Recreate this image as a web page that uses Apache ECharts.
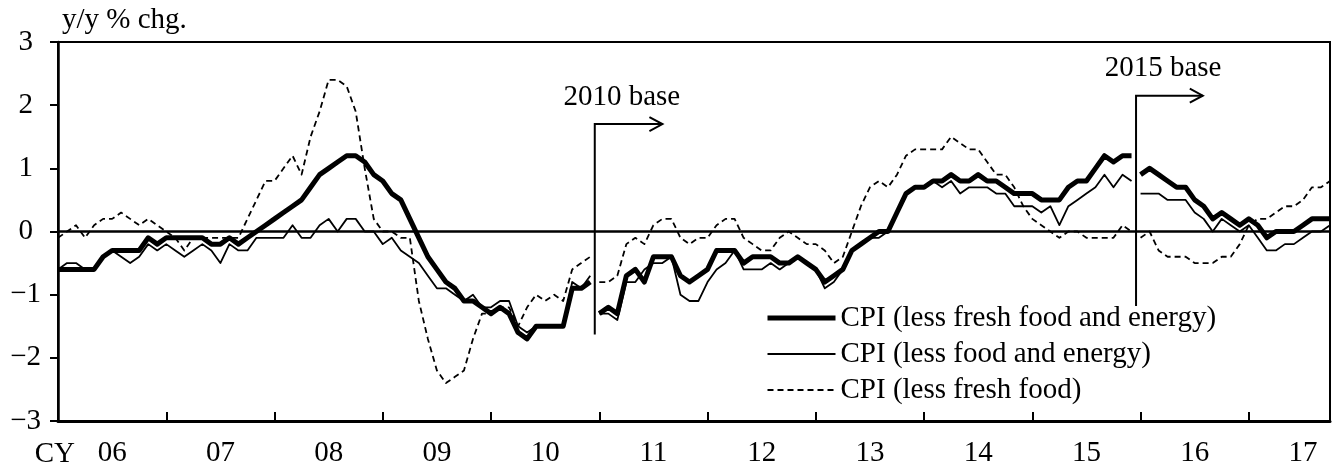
<!DOCTYPE html>
<html>
<head>
<meta charset="utf-8">
<script src="https://cdn.jsdelivr.net/npm/echarts@6/dist/echarts.min.js"></script>
<style>
  html, body { margin: 0; padding: 0; background: #fff; }
  #chart { width: 1332px; height: 471px; }
</style>
</head>
<body>
<div id="chart"></div>
<script>
// Japan CPI, y/y % change, monthly from Jan 2006 to Oct 2017
const yearLabels = ['06', '07', '08', '09', '10', '11', '12', '13', '14', '15', '16', '17'];
const axisPrefix = 'CY';
const unitLabel = 'y/y % chg.';
const seriesNames = [
  'CPI (less fresh food and energy)',
  'CPI (less food and energy)',
  'CPI (less fresh food)'
];

const lessFreshFoodEnergy = [
  -0.6, -0.6, -0.6, -0.6, -0.6, -0.4, -0.3, -0.3, -0.3, -0.3, -0.1, -0.2, // 2006
  -0.1, -0.1, -0.1, -0.1, -0.1, -0.2, -0.2, -0.1, -0.2, -0.1, 0.0, 0.1,   // 2007
  0.2, 0.3, 0.4, 0.5, 0.7, 0.9, 1.0, 1.1, 1.2, 1.2, 1.1, 0.9,             // 2008
  0.8, 0.6, 0.5, 0.2, -0.1, -0.4, -0.6, -0.8, -0.9, -1.1, -1.1, -1.2,     // 2009
  -1.3, -1.2, -1.3, -1.6, -1.7, -1.5, -1.5, -1.5, -1.5, -0.9, -0.9, -0.8, // 2010
  -1.3, -1.2, -1.3, -0.7, -0.6, -0.8, -0.4, -0.4, -0.4, -0.7, -0.8, -0.7, // 2011
  -0.6, -0.3, -0.3, -0.3, -0.5, -0.4, -0.4, -0.4, -0.5, -0.5, -0.4, -0.5, // 2012
  -0.6, -0.8, -0.7, -0.6, -0.3, -0.2, -0.1, 0.0, 0.0, 0.3, 0.6, 0.7,      // 2013
  0.7, 0.8, 0.8, 0.9, 0.8, 0.8, 0.9, 0.8, 0.8, 0.7, 0.6, 0.6,             // 2014
  0.6, 0.5, 0.5, 0.5, 0.7, 0.8, 0.8, 1.0, 1.2, 1.1, 1.2, 1.2,             // 2015
  0.9, 1.0, 0.9, 0.8, 0.7, 0.7, 0.5, 0.4, 0.2, 0.3, 0.2, 0.1,             // 2016
  0.2, 0.1, -0.1, 0.0, 0.0, 0.0, 0.1, 0.2, 0.2, 0.2                       // 2017
];

const lessFoodEnergy = [
  -0.6, -0.5, -0.5, -0.6, -0.6, -0.4, -0.3, -0.4, -0.5, -0.4, -0.2, -0.3, // 2006
  -0.2, -0.3, -0.4, -0.3, -0.2, -0.3, -0.5, -0.2, -0.3, -0.3, -0.1, -0.1, // 2007
  -0.1, -0.1, 0.1, -0.1, -0.1, 0.1, 0.2, 0.0, 0.2, 0.2, 0.0, 0.0,         // 2008
  -0.2, -0.1, -0.3, -0.4, -0.5, -0.7, -0.9, -0.9, -1.0, -1.1, -1.0, -1.2, // 2009
  -1.2, -1.1, -1.1, -1.5, -1.6, -1.5, -1.5, -1.5, -1.5, -0.8, -0.9, -0.7, // 2010
  -1.3, -1.3, -1.4, -0.8, -0.8, -0.6, -0.5, -0.5, -0.4, -1.0, -1.1, -1.1, // 2011
  -0.8, -0.6, -0.5, -0.3, -0.6, -0.6, -0.6, -0.5, -0.6, -0.5, -0.4, -0.5, // 2012
  -0.6, -0.9, -0.8, -0.6, -0.3, -0.2, -0.1, -0.1, 0.0, 0.3, 0.6, 0.7,     // 2013
  0.7, 0.8, 0.7, 0.8, 0.6, 0.7, 0.7, 0.7, 0.6, 0.6, 0.4, 0.4,             // 2014
  0.4, 0.3, 0.4, 0.1, 0.4, 0.5, 0.6, 0.7, 0.9, 0.7, 0.9, 0.8,             // 2015
  0.6, 0.6, 0.6, 0.5, 0.5, 0.5, 0.3, 0.2, 0.0, 0.2, 0.1, 0.0,             // 2016
  0.1, -0.1, -0.3, -0.3, -0.2, -0.2, -0.1, 0.0, 0.0, 0.1                  // 2017
];

const lessFreshFood = [
  -0.1, 0.0, 0.1, -0.1, 0.1, 0.2, 0.2, 0.3, 0.2, 0.1, 0.2, 0.1,           // 2006
  0.0, -0.1, -0.3, -0.1, -0.1, -0.1, -0.1, -0.1, -0.1, 0.2, 0.5, 0.8,     // 2007
  0.8, 1.0, 1.2, 0.9, 1.5, 1.9, 2.4, 2.4, 2.3, 1.9, 1.0, 0.2,             // 2008
  0.0, 0.0, -0.1, -0.1, -1.1, -1.7, -2.2, -2.4, -2.3, -2.2, -1.7, -1.3,   // 2009
  -1.3, -1.2, -1.2, -1.5, -1.2, -1.0, -1.1, -1.0, -1.1, -0.6, -0.5, -0.4, // 2010
  -0.8, -0.8, -0.7, -0.2, -0.1, -0.2, 0.1, 0.2, 0.2, -0.1, -0.2, -0.1,    // 2011
  -0.1, 0.1, 0.2, 0.2, -0.1, -0.2, -0.3, -0.3, -0.1, 0.0, -0.1, -0.2,     // 2012
  -0.2, -0.3, -0.5, -0.4, 0.0, 0.4, 0.7, 0.8, 0.7, 0.9, 1.2, 1.3,         // 2013
  1.3, 1.3, 1.3, 1.5, 1.4, 1.3, 1.3, 1.1, 0.9, 0.9, 0.7, 0.4,             // 2014
  0.2, 0.1, 0.0, -0.1, 0.0, 0.0, -0.1, -0.1, -0.1, -0.1, 0.1, 0.0,        // 2015
  -0.1, 0.0, -0.3, -0.4, -0.4, -0.4, -0.5, -0.5, -0.5, -0.4, -0.4, -0.2,  // 2016
  0.1, 0.2, 0.2, 0.3, 0.4, 0.4, 0.5, 0.7, 0.7, 0.8                        // 2017
];

// the index is re-based in Jan 2011 and Jan 2016: lines break between bases
const baseBreaks = [59.5, 119.5];
const baseShifts = [
  { text: '2010 base', month: 59.5, top: 1.7, bottom: -1.63, arrowTo: 67.0 },
  { text: '2015 base', month: 119.5, top: 2.15, bottom: -1.18, arrowTo: 126.9 }
];

const FONT = '"Liberation Serif", "Times New Roman", Times, serif';
const lastMonth = lessFreshFood.length - 1;

function toPairs(values) {
  const out = [];
  values.forEach((v, i) => {
    out.push([i, v]);
    if (baseBreaks.indexOf(i + 0.5) >= 0) out.push([i + 0.5, '-']);
  });
  return out;
}

const chart = echarts.init(document.getElementById('chart'), null, { renderer: 'canvas' });

const lineStyles = [
  { width: 5, type: 'solid' },
  { width: 1.8, type: 'solid' },
  { width: 1.8, type: [6, 4] }
];
const seriesValues = [lessFreshFoodEnergy, lessFoodEnergy, lessFreshFood];

chart.setOption({
  animation: false,
  textStyle: { fontFamily: FONT, color: '#000' },
  grid: {
    left: 58, right: 2, top: 42, bottom: 50,
    show: true, borderColor: '#000', borderWidth: 2, backgroundColor: 'transparent'
  },
  legend: {
    orient: 'vertical',
    left: 765, top: 303,
    padding: 0,
    itemWidth: 68, itemHeight: 14, itemGap: 6,
    selectedMode: false,
    itemStyle: { color: 'rgba(0,0,0,0)', borderWidth: 0, opacity: 0 },
    lineStyle: { width: 'inherit', type: 'inherit', color: '#000', opacity: 1 },
    textStyle: { fontFamily: FONT, fontSize: 29, color: '#000', lineHeight: 30 },
    data: seriesNames
  },
  xAxis: [
    {
      type: 'value', position: 'bottom', min: 0, max: lastMonth, interval: 12,
      axisLine: { show: true, onZero: false, lineStyle: { color: '#000', width: 3 } },
      axisTick: { show: true, inside: true, length: 9, lineStyle: { color: '#000', width: 2 } },
      axisLabel: { show: false },
      splitLine: { show: false }
    },
    {
      type: 'value', position: 'bottom', min: 0, max: lastMonth, interval: 6,
      axisLine: { show: false, onZero: false },
      axisTick: { show: false },
      splitLine: { show: false },
      axisLabel: {
        show: true, margin: 18, fontFamily: FONT, fontSize: 29, color: '#000',
        showMinLabel: false, showMaxLabel: false,
        formatter: v => (v % 12 === 6 ? yearLabels[(v - 6) / 12] || '' : '')
      }
    }
  ],
  yAxis: {
    type: 'value', min: -3, max: 3, interval: 1,
    axisLine: { show: true, lineStyle: { color: '#000', width: 2.5 } },
    axisTick: { show: true, inside: false, length: 8, lineStyle: { color: '#000', width: 2 } },
    splitLine: { show: false },
    axisLabel: {
      margin: 17, fontFamily: FONT, fontSize: 29, color: '#000',
      formatter: v => (v < 0 ? '\u2212' + Math.abs(v) : v + '{pad|\u00a0}'),
      rich: { pad: { width: 8, fontSize: 29, fontFamily: FONT } }
    }
  },
  series: seriesNames.map((name, k) => ({
    name,
    type: 'line',
    xAxisIndex: 0,
    data: toPairs(seriesValues[k]),
    symbol: 'none',
    showSymbol: false,
    connectNulls: false,
    z: 10 - k,
    lineStyle: { color: '#000', width: lineStyles[k].width, type: lineStyles[k].type, join: 'round', cap: 'butt' },
    itemStyle: { color: '#000' },
    emphasis: { disabled: true },
    markLine: k === 0 ? {
      silent: true, symbol: 'none', label: { show: false },
      lineStyle: { color: '#000', width: 2.5, type: 'solid' },
      data: [{ yAxis: 0 }]
    } : undefined
  }))
});

// annotations: base-year change markers, axis prefix and unit
const graphics = [];
baseShifts.forEach(b => {
  const pTop = chart.convertToPixel({ gridIndex: 0 }, [b.month, b.top]);
  const pBot = chart.convertToPixel({ gridIndex: 0 }, [b.month, b.bottom]);
  const pEnd = chart.convertToPixel({ gridIndex: 0 }, [b.arrowTo, b.top]);
  graphics.push({
    type: 'polyline', silent: true, z: 50,
    shape: { points: [[pBot[0], pBot[1]], [pTop[0], pTop[1]], [pEnd[0], pEnd[1]]] },
    style: { stroke: '#000', lineWidth: 2, fill: null }
  });
  graphics.push({
    type: 'polyline', silent: true, z: 50,
    shape: { points: [[pEnd[0] - 13, pEnd[1] - 7], [pEnd[0], pEnd[1]], [pEnd[0] - 13, pEnd[1] + 7]] },
    style: { stroke: '#000', lineWidth: 2, fill: null }
  });
  graphics.push({
    type: 'text', silent: true, z: 50,
    x: pTop[0] + 27, y: pTop[1] - 27,
    style: { text: b.text, font: '29px ' + FONT, fill: '#000', align: 'center', verticalAlign: 'middle' }
  });
});
const origin = chart.convertToPixel({ gridIndex: 0 }, [0, -3]);
graphics.push({
  type: 'text', silent: true, z: 50,
  x: origin[0] + 17, y: origin[1] + 33,
  style: { text: axisPrefix, font: '29px ' + FONT, fill: '#000', align: 'right', verticalAlign: 'middle' }
});
const yTop = chart.convertToPixel({ gridIndex: 0 }, [0, 3]);
graphics.push({
  type: 'text', silent: true, z: 50,
  x: yTop[0] + 4, y: yTop[1] - 22,
  style: { text: unitLabel, font: '29px ' + FONT, fill: '#000', align: 'left', verticalAlign: 'middle' }
});
chart.setOption({ graphic: graphics });
</script>
</body>
</html>
